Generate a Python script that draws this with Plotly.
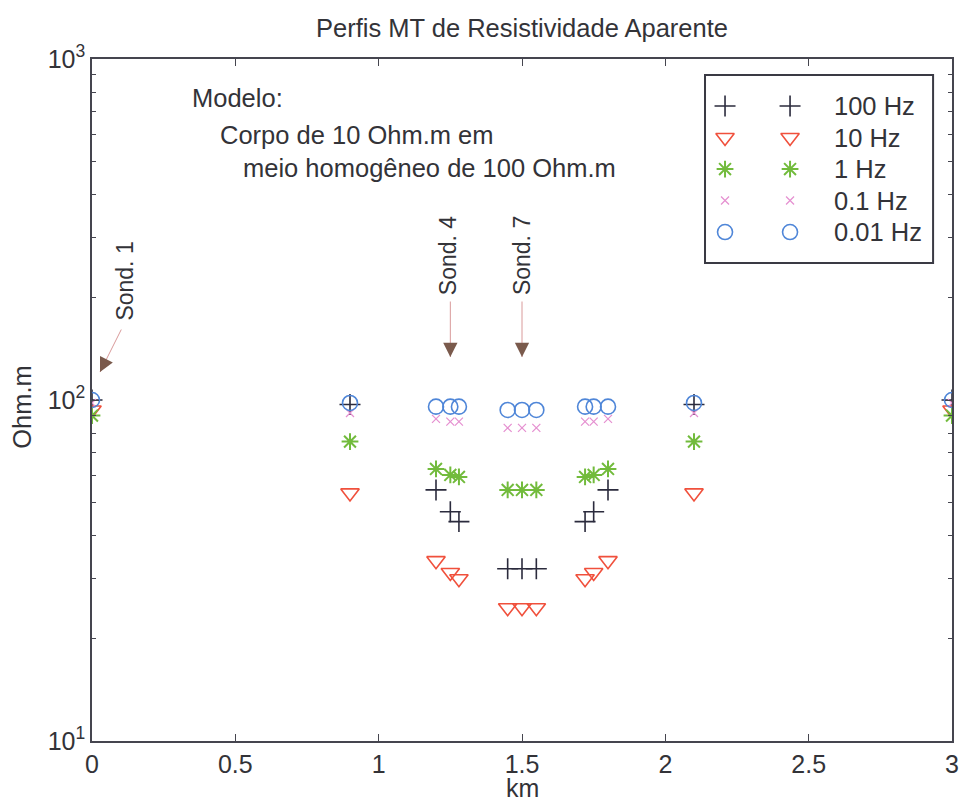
import math
import plotly.graph_objects as go

# ---------------- data ----------------
x_km = [0.0, 0.9, 1.2, 1.25, 1.28, 1.45, 1.5, 1.55, 1.72, 1.75, 1.8, 2.1, 3.0]
rho_100hz = [100, 97, 54.5, 47, 44, 32, 32, 32, 44, 47, 54.5, 97, 100]
rho_10hz = [93.5, 53.4, 33.8, 31.2, 29.9, 24.6, 24.6, 24.6, 29.9, 31.2, 33.8, 53.4, 93.5]
rho_1hz = [90, 75.5, 62.8, 60.3, 59.5, 54.5, 54.5, 54.5, 59.5, 60.3, 62.8, 75.5, 90]
rho_01hz = [98, 91.6, 88, 86.4, 86.4, 82.8, 82.8, 82.8, 86.4, 86.4, 88, 91.6, 98]
rho_001hz = [100, 98, 95.6, 95.6, 95.6, 93.5, 93.5, 93.5, 95.6, 95.6, 95.6, 98, 100]

freq_labels = ["100 Hz", "10 Hz", "1 Hz", "0.1 Hz", "0.01 Hz"]
series = [rho_100hz, rho_10hz, rho_1hz, rho_01hz, rho_001hz]

x_ticks = [0, 0.5, 1, 1.5, 2, 2.5, 3]
x_ticktext = ["0", "0.5", "1", "1.5", "2", "2.5", "3"]
y_ticks = [10, 100, 1000]
y_ticktext = ["10<sup>1</sup>", "10<sup>2</sup>", "10<sup>3</sup>"]
y_minor = [m * d for d in (10, 100) for m in range(2, 10)]

soundings = [("Sond. 1", 0.028), ("Sond. 4", 1.25), ("Sond. 7", 1.5)]

title_text = "Perfis MT de Resistividade Aparente"
model_lines = ["Modelo:", "Corpo de 10 Ohm.m em", "meio homogêneo de 100 Ohm.m"]

# ---------------- styles ----------------
FONT = "Liberation Sans, Arial, sans-serif"
TXT = "#333338"
FS = 25.5
styles = [
    dict(symbol="cross-thin-open", size=15, color="#2b2b3d", line=dict(width=1.6, color="#2b2b3d")),
    dict(symbol="triangle-down-open", size=16, color="#f0503c", line=dict(width=1.6, color="#f0503c")),
    dict(symbol="asterisk-open", size=14, color="#72bb3c", line=dict(width=2, color="#72bb3c")),
    dict(symbol="x-thin-open", size=8, color="#e58fd0", line=dict(width=1.2, color="#e58fd0")),
    dict(symbol="circle-open", size=15, color="#4f86d8", line=dict(width=1.6, color="#4f86d8")),
]

fig = go.Figure()
for lab, ys, st in zip(freq_labels, series, styles):
    fig.add_trace(go.Scatter(x=x_km, y=ys, mode="markers", name=lab, marker=st,
                             showlegend=False, xaxis="x", yaxis="y"))

# manual MATLAB-style legend (two marker samples per row)
for i, (lab, st) in enumerate(zip(freq_labels, styles)):
    fig.add_trace(go.Scatter(x=[0, 1], y=[i, i], mode="markers", marker=st,
                             showlegend=False, xaxis="x2", yaxis="y2", hoverinfo="skip"))

annotations = []
for i, lab in enumerate(freq_labels):
    annotations.append(dict(x=1.646, y=i, xref="x2", yref="y2", text=lab, showarrow=False,
                            xanchor="left", yanchor="middle",
                            font=dict(family=FONT, size=FS, color=TXT)))

# model text
model_pos = [(0.342, 2.886), (0.44, 2.777), (0.52, 2.68)]
for t, (mx, my) in zip(model_lines, model_pos):
    annotations.append(dict(x=mx, y=my, xref="x", yref="y", text=t, showarrow=False,
                            xanchor="left", yanchor="middle",
                            font=dict(family=FONT, size=FS, color=TXT)))

# sounding labels and arrows
tip_logy = {"Sond. 1": 2.082, "Sond. 4": 2.126, "Sond. 7": 2.126}
tail_off = {"Sond. 1": (22, -44), "Sond. 4": (0, -57), "Sond. 7": (0, -57)}
text_pos = {"Sond. 1": (0.115, 2.35), "Sond. 4": (1.242, 2.422), "Sond. 7": (1.5, 2.422)}
for name, sx in soundings:
    tx, ty = text_pos[name]
    annotations.append(dict(x=tx, y=ty, xref="x", yref="y", text=name, showarrow=False,
                            textangle=-90, xanchor="center", yanchor="middle",
                            font=dict(family=FONT, size=23, color=TXT)))
    ax, ay = tail_off[name]
    # thin line
    annotations.append(dict(x=sx, y=tip_logy[name], xref="x", yref="y", text="",
                            showarrow=True, arrowhead=0, arrowwidth=1, arrowcolor="#d99a9a",
                            ax=ax, ay=ay, standoff=0, startstandoff=0))
    # head
    L = math.hypot(ax, ay)
    hx, hy = ax / L * 12, ay / L * 12
    annotations.append(dict(x=sx, y=tip_logy[name], xref="x", yref="y", text="",
                            showarrow=True, arrowhead=2, arrowwidth=1.3, arrowsize=2.2,
                            arrowcolor="#7a5a4c", ax=hx, ay=hy, standoff=0))

# axis titles
annotations.append(dict(x=-0.0814, y=0.49, xref="paper", yref="paper", text="Ohm.m",
                        textangle=-90, showarrow=False, xanchor="center", yanchor="middle",
                        font=dict(family=FONT, size=FS, color=TXT)))
annotations.append(dict(x=0.5, y=-0.0685, xref="paper", yref="paper", text="km",
                        showarrow=False, xanchor="center", yanchor="middle", borderpad=0,
                        font=dict(family=FONT, size=25, color=TXT)))

axis_color = "#45454f"
fig.update_layout(
    width=960, height=807,
    margin=dict(l=92, r=8, t=59, b=66, autoexpand=False),
    paper_bgcolor="white", plot_bgcolor="white",
    title=dict(text=title_text, x=0.5, xref="paper", xanchor="center",
               y=1 - 28 / 807, yref="container", yanchor="middle",
               font=dict(family=FONT, size=FS, color=TXT)),
    xaxis=dict(range=[0, 3], tickvals=x_ticks, ticktext=x_ticktext, ticks="inside",
               ticklen=7, tickwidth=1.2, tickcolor=axis_color, showline=True,
               linecolor=axis_color, linewidth=1.6, mirror="ticks", showgrid=False,
               zeroline=False, automargin=False,
               tickfont=dict(family=FONT, size=25, color=TXT)),
    yaxis=dict(type="log", range=[1, 3], tickvals=y_ticks, ticktext=y_ticktext,
               ticks="inside", ticklen=7, tickwidth=1.2, tickcolor=axis_color,
               showline=True, linecolor=axis_color, linewidth=1.6, mirror="ticks",
               showgrid=False, zeroline=False, automargin=False,
               minor=dict(tickvals=y_minor, ticks="inside", ticklen=4, tickwidth=1,
                          tickcolor=axis_color, showgrid=False),
               tickfont=dict(family=FONT, size=25, color=TXT)),
    xaxis2=dict(domain=[0.7128, 0.978], range=[-0.308, 3.2], visible=False,
                anchor="y2", fixedrange=True),
    yaxis2=dict(domain=[0.701, 0.9765], range=[4.98, -0.984], visible=False,
                anchor="x2", fixedrange=True),
    shapes=[dict(type="rect", xref="paper", yref="paper", x0=0.7128, x1=0.978,
                 y0=0.701, y1=0.9765, line=dict(color="#3a3a44", width=2),
                 fillcolor="rgba(0,0,0,0)", layer="above")],
    annotations=annotations,
    showlegend=False,
)

fig.write_html("out.html")
